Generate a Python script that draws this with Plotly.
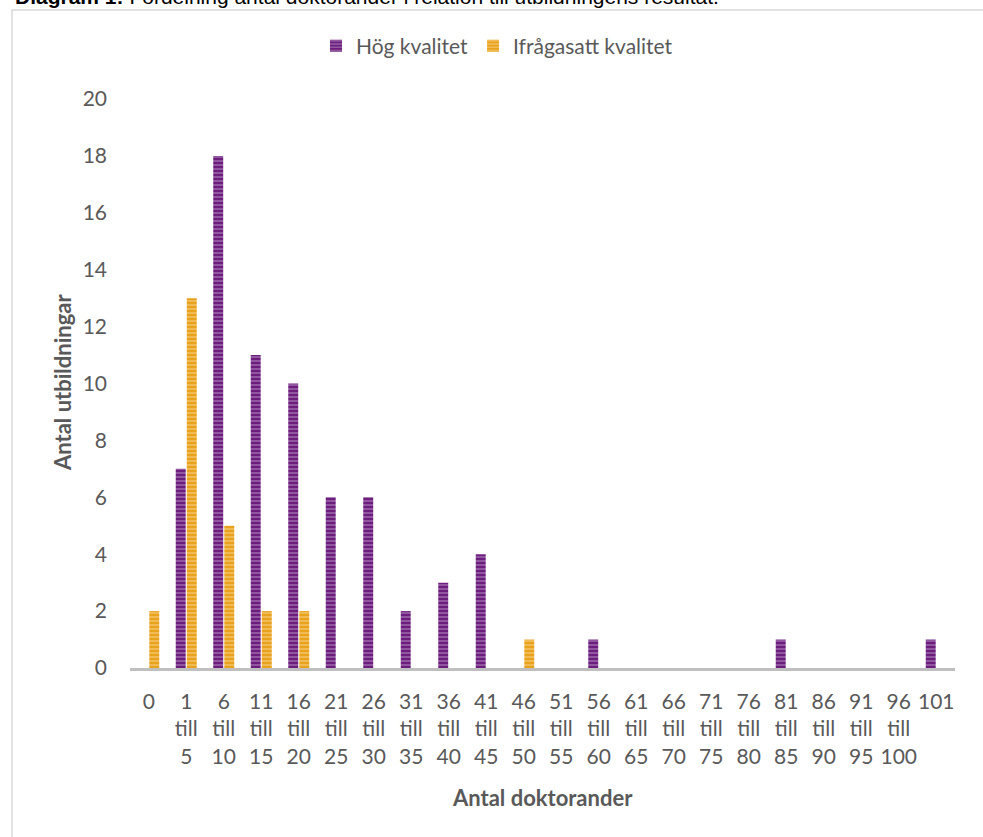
import plotly.graph_objects as go

categories = ["0", "1<br>till<br>5", "6<br>till<br>10", "11<br>till<br>15", "16<br>till<br>20",
              "21<br>till<br>25", "26<br>till<br>30", "31<br>till<br>35", "36<br>till<br>40",
              "41<br>till<br>45", "46<br>till<br>50", "51<br>till<br>55", "56<br>till<br>60",
              "61<br>till<br>65", "66<br>till<br>70", "71<br>till<br>75", "76<br>till<br>80",
              "81<br>till<br>85", "86<br>till<br>90", "91<br>till<br>95", "96<br>till<br>100", "101"]
hog_kvalitet = [0, 7, 18, 11, 10, 6, 6, 2, 3, 4, 0, 0, 1, 0, 0, 0, 0, 1, 0, 0, 0, 1]
ifragasatt_kvalitet = [2, 13, 5, 2, 2, 0, 0, 0, 0, 0, 1, 0, 0, 0, 0, 0, 0, 0, 0, 0, 0, 0]
y_ticks = [0, 2, 4, 6, 8, 10, 12, 14, 16, 18, 20]

W, H = 983, 837
L, R, T, B = 130, 28, 99, 169
PW, PH = W - L - R, H - T - B

def px(x):
    return (x - L) / PW

def py(y):
    return (H - B - y) / PH

FONT = "Lato, 'Open Sans', sans-serif"
GRAY = "#595959"

fig = go.Figure()
fig.add_trace(go.Bar(
    x=categories, y=hog_kvalitet, name="Hög kvalitet",
    marker=dict(color="#6c1d7e", line=dict(width=0),
                pattern=dict(shape="-", fgcolor="#a070ad", bgcolor="#6c1d7e",
                             size=4, solidity=0.35, fillmode="replace")),
))
fig.add_trace(go.Bar(
    x=categories, y=ifragasatt_kvalitet, name="Ifrågasatt kvalitet",
    marker=dict(color="#e9a21c", line=dict(width=0),
                pattern=dict(shape="-", fgcolor="#f4c66f", bgcolor="#e9a21c",
                             size=4, solidity=0.35, fillmode="replace")),
))

fig.update_layout(
    width=W, height=H,
    margin=dict(l=L, r=R, t=T, b=B, autoexpand=False),
    paper_bgcolor="white", plot_bgcolor="white",
    barmode="group", bargap=0.41, bargroupgap=0.1,
    font=dict(family=FONT, size=21, color=GRAY),
    showlegend=True,
    legend=dict(orientation="h", x=px(497), xanchor="center", y=py(46), yanchor="middle",
                font=dict(family=FONT, size=21, color=GRAY), itemwidth=30,
                traceorder="normal", bgcolor="rgba(0,0,0,0)"),
    xaxis=dict(type="category", showgrid=False, zeroline=False, showline=True,
               linecolor="#bfbfbf", linewidth=2.5, ticks="", ticklabelstandoff=13,
               tickfont=dict(family=FONT, size=21, color=GRAY), automargin=False,
               tickangle=0),
    yaxis=dict(range=[0, 20], tickvals=y_ticks, showgrid=False, zeroline=False,
               showline=False, ticks="", ticklabelstandoff=22,
               tickfont=dict(family=FONT, size=21, color=GRAY), automargin=False),
    shapes=[dict(type="rect", xref="paper", yref="paper",
                 x0=px(12), x1=px(995), y0=py(850), y1=py(10),
                 line=dict(color="#d9d9d9", width=1.5), fillcolor="rgba(0,0,0,0)", layer="below")],
    annotations=[
        dict(text="<b>Antal utbildningar</b>", xref="paper", yref="paper",
             x=px(62), y=py(383), xanchor="center", yanchor="middle", textangle=-90,
             showarrow=False, font=dict(family=FONT, size=22, color=GRAY)),
        dict(text="<b>Antal doktorander</b>", xref="paper", yref="paper",
             x=px(542), y=py(797), xanchor="center", yanchor="middle",
             showarrow=False, font=dict(family=FONT, size=22, color=GRAY)),
        dict(text="<b>Diagram 1:</b> Fördelning antal doktorander i relation till utbildningens resultat.",
             xref="paper", yref="paper", x=px(13), y=py(-4), xanchor="left", yanchor="middle",
             showarrow=False, font=dict(family="Liberation Sans, Arial, sans-serif", size=21, color="#000000")),
    ],
)

fig.write_html("out.html", config={"displayModeBar": False},
               post_script="document.body.style.margin='0';document.body.style.padding='0';")
